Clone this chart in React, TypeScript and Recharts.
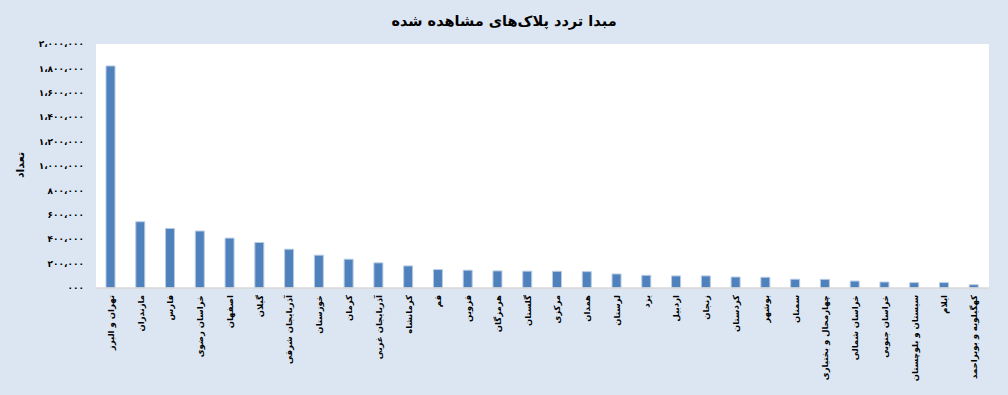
import { BarChart, Bar, XAxis, YAxis, CartesianGrid } from 'recharts';

const provinces = [
  'تهران و البرز',
  'مازندران',
  'فارس',
  'خراسان رضوی',
  'اصفهان',
  'گیلان',
  'آذربایجان شرقی',
  'خوزستان',
  'کرمان',
  'آذربایجان غربی',
  'کرمانشاه',
  'قم',
  'قزوین',
  'هرمزگان',
  'گلستان',
  'مرکزی',
  'همدان',
  'لرستان',
  'یزد',
  'اردبیل',
  'زنجان',
  'کردستان',
  'بوشهر',
  'سمنان',
  'چهارمحال و بختیاری',
  'خراسان شمالی',
  'خراسان جنوبی',
  'سیستان و بلوچستان',
  'ایلام',
  'کهگیلویه و بویراحمد',
];

const counts = [
  1820000, 543000, 488000, 467000, 409000, 373000, 318000, 269000, 236000, 206000,
  181000, 151000, 146000, 140000, 138000, 137000, 134000, 115000, 104000, 99000,
  99000, 90000, 88000, 72000, 71000, 57000, 49000, 44000, 44000, 27000,
];

const yTicks = [0, 200000, 400000, 600000, 800000, 1000000, 1200000, 1400000, 1600000, 1800000, 2000000];
const yTickLabels = [
  '۰۰۰',
  '۲۰۰،۰۰۰',
  '۴۰۰،۰۰۰',
  '۶۰۰،۰۰۰',
  '۸۰۰،۰۰۰',
  '۱،۰۰۰،۰۰۰',
  '۱،۲۰۰،۰۰۰',
  '۱،۴۰۰،۰۰۰',
  '۱،۶۰۰،۰۰۰',
  '۱،۸۰۰،۰۰۰',
  '۲،۰۰۰،۰۰۰',
];

const title = 'مبدا تردد پلاک‌های مشاهده شده';
const yTitle = 'تعداد';

const data = provinces.map((name, i) => ({ name, count: counts[i] }));

const FONT = '"DejaVu Sans", sans-serif';

// province names run top-down under each bar
const ProvinceTick = (props: any) => {
  const { x, y, payload } = props;
  return (
    <text
      x={x}
      y={y}
      transform={`rotate(-90, ${x}, ${y})`}
      textAnchor="end"
      dominantBaseline="central"
      fontFamily={FONT}
      fontWeight="bold"
      fontSize={8.5}
      letterSpacing={-0.3}
      fill="#000"
    >
      {payload.value}
    </text>
  );
};

export default function App() {
  return (
    <div
      style={{
        position: 'absolute',
        left: 0,
        top: 0,
        width: 1008,
        height: 395,
        background: '#dce6f2',
        fontFamily: FONT,
      }}
    >
      <div
        style={{
          position: 'absolute',
          top: 13,
          left: 0,
          width: 1008,
          textAlign: 'center',
          fontWeight: 'bold',
          fontSize: 14.5,
          direction: 'rtl',
        }}
      >
        {title}
      </div>
      <div
        style={{
          position: 'absolute',
          left: 20,
          top: 165,
          transform: 'translate(-50%, -50%) rotate(-90deg)',
          fontWeight: 'bold',
          fontSize: 11,
          whiteSpace: 'nowrap',
        }}
      >
        {yTitle}
      </div>
      <BarChart
        width={1008}
        height={395}
        data={data}
        margin={{ top: 44, right: 19, bottom: 0, left: 0 }}
        barCategoryGap={0}
      >
        <CartesianGrid horizontal={false} vertical={false} fill="#ffffff" />
        <XAxis
          dataKey="name"
          height={107}
          interval={0}
          tick={<ProvinceTick />}
          tickLine={false}
          tickSize={0}
          tickMargin={7}
          axisLine={{ stroke: '#d9d9d9', strokeWidth: 1.5 }}
        />
        <YAxis
          width={96}
          domain={[0, 2000000]}
          ticks={yTicks}
          interval={0}
          axisLine={false}
          tickLine={false}
          tickSize={0}
          tickMargin={12}
          tickFormatter={(v: number) => yTickLabels[yTicks.indexOf(v)]}
          tick={{ fill: '#000', fontSize: 9, fontWeight: 'bold', fontFamily: FONT }}
        />
        <Bar
          dataKey="count"
          fill="#4f81bd"
          stroke="#b8cce4"
          strokeWidth={1}
          barSize={9}
          isAnimationActive={false}
        />
      </BarChart>
    </div>
  );
}
